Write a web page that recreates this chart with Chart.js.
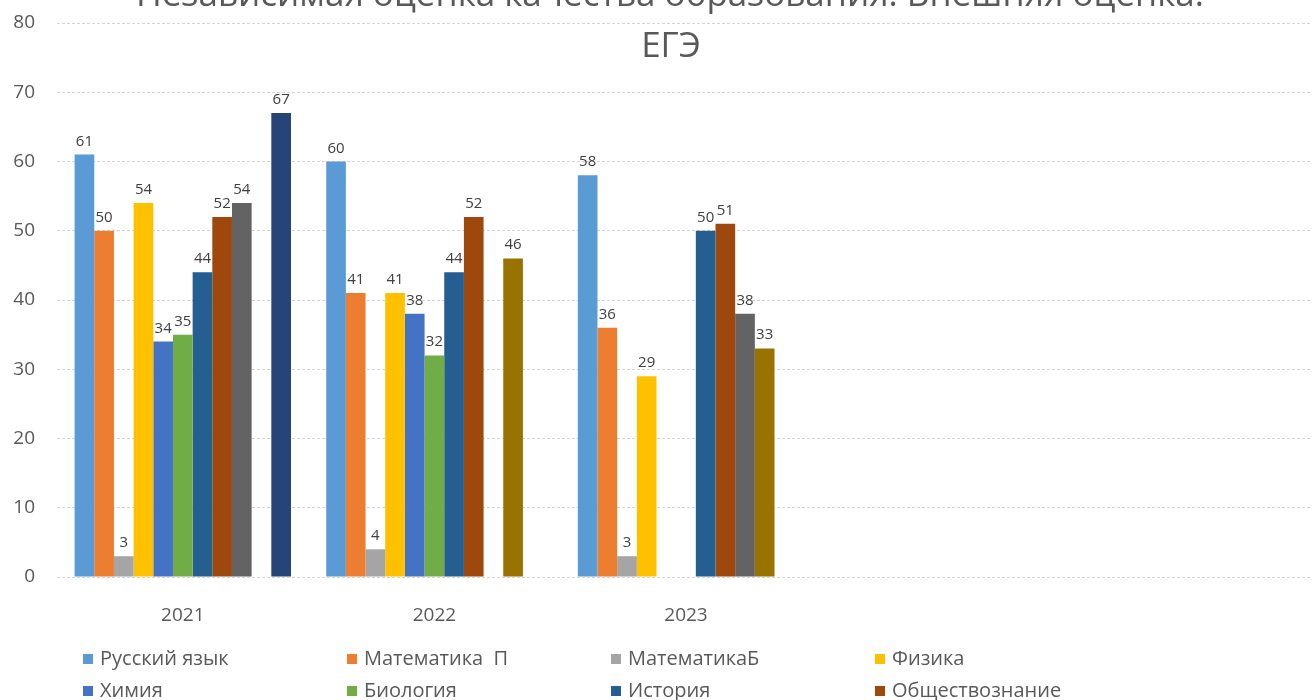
<!DOCTYPE html>
<html>
<head>
<meta charset="utf-8">
<script src="https://cdn.jsdelivr.net/npm/chart.js@4/dist/chart.umd.min.js"></script>
<style>
  html, body { margin: 0; padding: 0; background: #fff; overflow: hidden; }
  #wrap { width: 1312px; height: 700px; overflow: hidden; }
</style>
</head>
<body>
<div id="wrap"><canvas id="chartEge" width="1320" height="700"></canvas></div>
<script>
// Данные
const categories = ['2021', '2022', '2023', '', ''];
const titleLines = ['Независимая оценка качества образования. Внешняя оценка.', 'ЕГЭ'];
const yTicks = [0, 10, 20, 30, 40, 50, 60, 70, 80];

const seriesNames = ['Русский язык', 'Математика  П', 'МатематикаБ', 'Физика',
  'Химия', 'Биология', 'История', 'Обществознание',
  'Информатика', 'Английский язык', 'Литература'];

const russkiy   = [61, 60, 58, null, null];
const matemP    = [50, 41, 36, null, null];
const matemB    = [3, 4, 3, null, null];
const fizika    = [54, 41, 29, null, null];
const himiya    = [34, 38, null, null, null];
const biologiya = [35, 32, null, null, null];
const istoriya  = [44, 44, 50, null, null];
const obshchest = [52, 52, 51, null, null];
const informat  = [54, null, 38, null, null];
const angliysk  = [null, 46, 33, null, null];
const literat   = [67, null, null, null, null];

const seriesValues = [russkiy, matemP, matemB, fizika, himiya, biologiya,
  istoriya, obshchest, informat, angliysk, literat];

const seriesColors = ['#5B9BD5', '#ED7D31', '#A5A5A5', '#FFC000', '#4472C4', '#70AD47',
  '#255E91', '#9E480E', '#636363', '#997300', '#264478'];

const FONT = '"Open Sans", "DejaVu Sans", sans-serif';
const TEXT = '#595959';

// Заголовок поверх области графика (как в Excel)
const titlePlugin = {
  id: 'titleOverlay',
  afterDraw(chart) {
    const ctx = chart.ctx;
    ctx.save();
    ctx.fillStyle = TEXT;
    ctx.font = '35px ' + FONT;
    ctx.textAlign = 'center';
    ctx.textBaseline = 'alphabetic';
    ctx.fillText(titleLines[0], 670, 6);
    ctx.fillText(titleLines[1], 671, 57);
    ctx.restore();
  }
};

// Подписи значений над столбцами
const valuesPlugin = {
  id: 'valueLabels',
  afterDatasetsDraw(chart) {
    const ctx = chart.ctx;
    ctx.save();
    ctx.fillStyle = '#404040';
    ctx.font = '15px ' + FONT;
    ctx.textAlign = 'center';
    ctx.textBaseline = 'alphabetic';
    chart.data.datasets.forEach((ds, i) => {
      const meta = chart.getDatasetMeta(i);
      meta.data.forEach((bar, j) => {
        const v = ds.data[j];
        if (v === null || v === undefined) return;
        ctx.fillText(String(v), bar.x, bar.y - 9);
      });
    });
    ctx.restore();
  }
};

// Легенда в 4 колонки внизу
const legendPlugin = {
  id: 'gridLegend',
  afterDraw(chart) {
    const ctx = chart.ctx;
    ctx.save();
    ctx.font = '20px ' + FONT;
    ctx.textBaseline = 'middle';
    ctx.textAlign = 'left';
    chart.data.datasets.forEach((ds, i) => {
      const col = i % 4;
      const row = Math.floor(i / 4);
      const x = 83 + col * 264;
      const y = 659 + row * 32;
      ctx.fillStyle = ds.backgroundColor;
      ctx.fillRect(x, y - 5, 10, 10);
      ctx.fillStyle = TEXT;
      ctx.fillText(ds.label, x + 17, y);
    });
    ctx.restore();
  }
};

document.addEventListener('DOMContentLoaded', function() {
  new Chart(document.getElementById('chartEge'), {
    type: 'bar',
    data: {
      labels: categories,
      datasets: seriesNames.map((name, i) => ({
        label: name,
        data: seriesValues[i],
        backgroundColor: seriesColors[i],
        borderWidth: 0,
        barPercentage: 1,
        categoryPercentage: 0.86
      }))
    },
    options: {
      responsive: false,
      animation: false,
      devicePixelRatio: 1,
      layout: { padding: { top: 23, right: 5, left: 0, bottom: 0 } },
      plugins: {
        legend: { display: false },
        title: { display: false },
        tooltip: { enabled: false }
      },
      scales: {
        x: {
          grid: { display: false },
          border: { display: false },
          ticks: { color: TEXT, font: { family: FONT, size: 19 }, padding: 19 },
          afterFit: s => { s.height = 123; }
        },
        y: {
          min: 0,
          max: 80,
          afterBuildTicks: s => { s.ticks = yTicks.map(v => ({ value: v })); },
          grid: { color: '#d4d4d4', lineWidth: 1, drawTicks: false },
          border: { display: false, dash: [3, 2] },
          ticks: { color: TEXT, font: { family: FONT, size: 19 }, padding: 22 },
          afterFit: s => { s.width = 57; s.paddingTop = 0; s.paddingBottom = 0; }
        }
      }
    },
    plugins: [titlePlugin, valuesPlugin, legendPlugin]
  });
});
</script>
</body>
</html>
